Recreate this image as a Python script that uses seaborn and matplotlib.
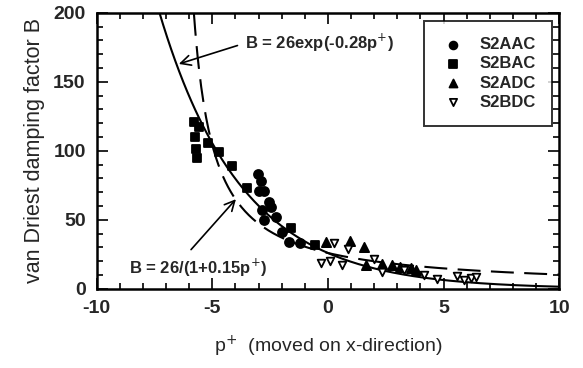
import numpy as np
import pandas as pd
import matplotlib
matplotlib.use("Agg")
import matplotlib.pyplot as plt
import seaborn as sns
from matplotlib.ticker import MultipleLocator

# --- data ---
aac_p = [-3.03, -2.9, -3.0, -2.75, -2.55, -2.85, -2.45, -2.77, -2.25, -2.0, -1.7, -1.2]
aac_B = [83, 78, 71, 71, 63, 57, 59, 50, 52, 41, 34, 33]
bac_p = [-5.8, -5.58, -5.76, -5.19, -5.71, -5.67, -4.72, -4.16, -3.5, -1.6, -0.56]
bac_B = [121, 117, 110, 106, 101, 95, 99, 89, 73, 44, 32]
adc_p = [-0.1, 0.95, 1.55, 1.65, 2.35, 2.75, 3.1, 3.6, 3.8]
adc_B = [34, 35, 30, 17, 18, 17, 16, 15, 14]
bdc_p = [0.25, 0.85, -0.3, 0.1, 0.6, 2.0, 2.35, 3.3, 4.15, 4.7, 5.6, 5.9, 6.2, 6.4]
bdc_B = [33, 29, 19, 20, 17, 22, 12.5, 14, 10, 7.5, 9, 6.5, 8, 8.5]

series_names = ["S2AAC", "S2BAC", "S2ADC", "S2BDC"]
x_ticks = [-10, -5, 0, 5, 10]
y_ticks = [0, 50, 100, 150, 200]

# fit curves (formulas shown in the chart)
p_exp = np.linspace(-7.3, 10, 300)
B_exp = 26 * np.exp(-0.28 * p_exp)
p_rat = np.linspace(-5.8, 10, 300)
B_rat = 26 / (1 + 0.15 * p_rat)

sns.set_theme(style="white")
plt.rcParams["font.family"] = ["Liberation Sans", "DejaVu Sans"]

fig = plt.figure(figsize=(5.83, 3.68), dpi=100)
ax = fig.add_axes([0.166, 0.215, 0.793, 0.750])

sns.lineplot(x=p_exp, y=B_exp, ax=ax, color="black", lw=1.5, sort=False)
sns.lineplot(x=p_rat, y=B_rat, ax=ax, color="black", lw=1.5, sort=False)
ax.lines[-1].set_dashes([11, 5])

df = pd.concat([
    pd.DataFrame({"p": aac_p, "B": aac_B, "s": series_names[0]}),
    pd.DataFrame({"p": bac_p, "B": bac_B, "s": series_names[1]}),
    pd.DataFrame({"p": adc_p, "B": adc_B, "s": series_names[2]}),
    pd.DataFrame({"p": bdc_p, "B": bdc_B, "s": series_names[3]}),
])
styles = {
    "S2AAC": dict(marker="o", facecolor="black", s=42, ls=0.75),
    "S2BAC": dict(marker="s", facecolor="black", s=38, ls=0.75),
    "S2ADC": dict(marker="^", facecolor="black", s=44, ls=0.75),
    "S2BDC": dict(marker="v", facecolor="white", s=30, ls=0.9),
}
handles = []
for name in series_names:
    sub = df[df.s == name]
    st = styles[name]
    sns.scatterplot(data=sub, x="p", y="B", ax=ax, marker=st["marker"],
                    s=st["s"], color=st["facecolor"], edgecolor="black",
                    linewidth=1.3, zorder=3)
    h = ax.scatter([], [], marker=st["marker"], s=st["s"] * st["ls"],
                   facecolor=st["facecolor"], edgecolor="black", linewidth=1.3)
    handles.append(h)

ax.set_xlim(-10, 10)
ax.set_ylim(0, 200)
ax.set_xticks(x_ticks)
ax.set_yticks(y_ticks)
ax.set_xticklabels([str(t) for t in x_ticks])
ax.set_yticklabels([str(t) for t in y_ticks])
ax.xaxis.set_minor_locator(MultipleLocator(1))
ax.yaxis.set_minor_locator(MultipleLocator(10))
ax.tick_params(which="both", direction="in", top=True, right=True,
               bottom=True, left=True, color="black", width=1.2)
ax.tick_params(which="major", length=8, labelsize=14, pad=8)
ax.tick_params(which="minor", length=4)
for lab in ax.get_xticklabels() + ax.get_yticklabels():
    lab.set_fontweight("bold")
for sp in ax.spines.values():
    sp.set_color("black")
    sp.set_linewidth(1.8)

ax.set_xlabel("p$^{+}$  (moved on x-direction)", fontsize=14, labelpad=12)
ax.set_ylabel("van Driest damping factor B", fontsize=15.5, labelpad=6)

ax.annotate("B = 26exp(-0.28p$^{+}$)", xy=(-6.45, 163), xytext=(-3.6, 178),
            fontsize=12, fontweight="bold", va="center", ha="left",
            arrowprops=dict(arrowstyle="->", color="black", lw=1.2,
                            shrinkA=3, shrinkB=0, mutation_scale=18,
                            relpos=(0, 0.5)))
ax.annotate("B = 26/(1+0.15p$^{+}$)", xy=(-3.98, 65), xytext=(-8.6, 15),
            fontsize=12, fontweight="bold", va="center", ha="left",
            arrowprops=dict(arrowstyle="->", color="black", lw=1.2,
                            shrinkA=4, shrinkB=0, mutation_scale=18,
                            relpos=(0.4, 1.0)))

leg = ax.legend(handles, series_names, loc="upper right",
                bbox_to_anchor=(0.985, 0.972), borderaxespad=0,
                frameon=True, fancybox=False,
                handletextpad=0.9, handlelength=1.4, labelspacing=0.25,
                borderpad=1.0, prop={"weight": "bold", "size": 12})
leg.get_frame().set_edgecolor("black")
leg.get_frame().set_linewidth(1.4)

fig.savefig("out.png", dpi=100, facecolor="white")
